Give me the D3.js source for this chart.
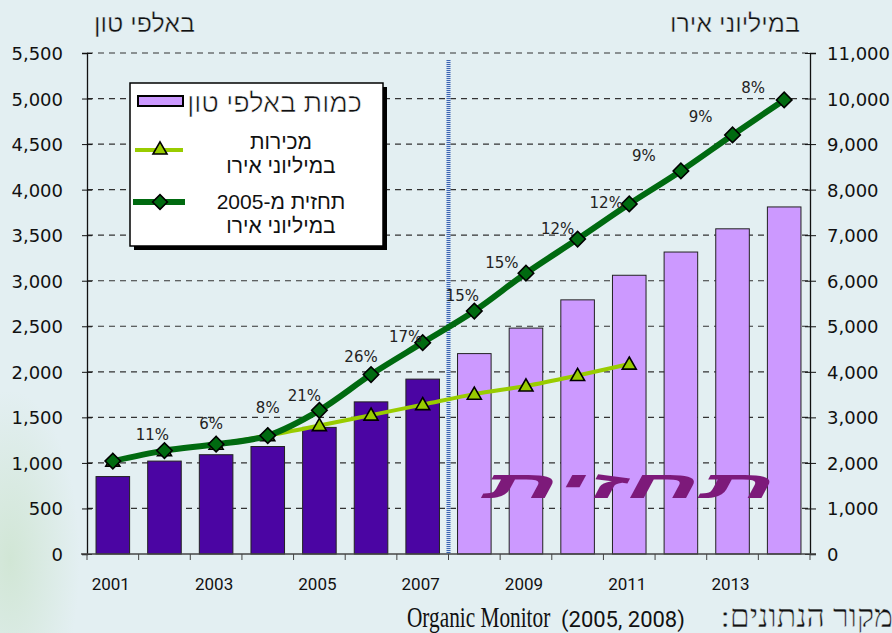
<!DOCTYPE html>
<html lang="he">
<head>
<meta charset="utf-8">
<style>
    body { margin: 0; background: #e3eff2; }
    svg { display: block; }
    .axis text { font-family: "DejaVu Sans", Tahoma, sans-serif; font-size: 18px; fill: #111; }
    .heb { font-family: "Liberation Sans", Arial, sans-serif; fill: #111; }
    .thin { stroke: #e3eff2; stroke-width: 0.4px; }
    .thinW { stroke: #fff; stroke-width: 0.6px; }
</style>
</head>
<body>
<svg width="892" height="633"></svg>
<script src="https://cdnjs.cloudflare.com/ajax/libs/d3/7.8.5/d3.min.js"></script>
<script>
    // Data
    const years = [2001, 2002, 2003, 2004, 2005, 2006, 2007, 2008, 2009, 2010, 2011, 2012, 2013, 2014];
    const firstForecastYear = 2008;
    // quantity, thousand tonnes (left axis)
    const quantity = [850, 1020, 1090, 1180, 1390, 1670, 1920, 2200, 2480, 2790, 3060, 3315, 3570, 3810];
    // sales, million euro (right axis), 2001-2011
    const salesYears = [2001, 2002, 2003, 2004, 2005, 2006, 2007, 2008, 2009, 2010, 2011];
    const sales = [2040, 2270, 2410, 2600, 2820, 3050, 3280, 3510, 3690, 3920, 4170];
    // forecast from 2005, million euro (right axis)
    const forecast = [2040, 2270, 2410, 2600, 3155, 3940, 4640, 5335, 6165, 6915, 7685, 8410, 9200, 9970];
    const growth = [null, 11, 6, 8, 21, 26, 17, 15, 15, 12, 12, 9, 9, 8];

    const leftTicks = [0, 500, 1000, 1500, 2000, 2500, 3000, 3500, 4000, 4500, 5000, 5500];
    const rightTicks = [0, 1000, 2000, 3000, 4000, 5000, 6000, 7000, 8000, 9000, 10000, 11000];
    const yearLabels = [2001, 2003, 2005, 2007, 2009, 2011, 2013];

    // label nudges (px) for the growth labels, relative to each diamond
    const labelDx = [0, -12, -5, 0, -15, -10, -17, -12, -24, -20, -23, -37, -32, -31];
    const labelDy = [0, -11, -15, -23, -9, -13, -1, -10, -5, -5, 4, -10, -13, -7];

    const svg = d3.select("svg");
    const plotLeft = 87, plotRight = 810, plotTop = 53, plotBottom = 554;

    // background tint
    const defs = svg.append("defs");
    const rg = defs.append("radialGradient").attr("id", "greenTint");
    rg.append("stop").attr("offset", "0%").attr("stop-color", "#cfe5d2").attr("stop-opacity", 0.9);
    rg.append("stop").attr("offset", "100%").attr("stop-color", "#cfe5d2").attr("stop-opacity", 0);
    svg.append("rect").attr("width", 892).attr("height", 633).attr("fill", "#e3eff2");
    svg.append("ellipse").attr("cx", 10).attr("cy", 560).attr("rx", 70).attr("ry", 170)
        .attr("fill", "url(#greenTint)");

    const x = d3.scaleBand().domain(years).range([plotLeft, plotRight]).paddingInner(0.35).paddingOuter(0.175);
    const yLeft = d3.scaleLinear().domain([0, 5500]).range([plotBottom, plotTop]);
    const yRight = d3.scaleLinear().domain([0, 11000]).range([plotBottom, plotTop]);
    const cx = yr => x(yr) + x.bandwidth() / 2;

    // gridlines
    svg.append("g").selectAll("line").data(leftTicks.filter(d => d > 0)).join("line")
        .attr("x1", plotLeft).attr("x2", plotRight)
        .attr("y1", d => yLeft(d)).attr("y2", d => yLeft(d))
        .attr("stroke", "#333").attr("stroke-width", 1.2).attr("stroke-dasharray", "6,5");

    // bars
    svg.append("g").selectAll("rect").data(years).join("rect")
        .attr("x", d => x(d))
        .attr("y", (d, i) => yLeft(quantity[i]))
        .attr("width", x.bandwidth())
        .attr("height", (d, i) => plotBottom - yLeft(quantity[i]))
        .attr("fill", d => d < firstForecastYear ? "#4b05a3" : "#cc99ff")
        .attr("stroke", "#222").attr("stroke-width", 1);

    // forecast watermark
    svg.append("text").attr("class", "heb")
        .attr("x", 483).attr("y", 498)
        .attr("textLength", 292).attr("lengthAdjust", "spacingAndGlyphs")
        .attr("font-size", 38).attr("font-weight", "bold").attr("font-style", "italic")
        .style("fill", "#7d1a7a")
        .text("תחזית");

    // separator between actual and forecast
    const sepX = x(firstForecastYear) - x.step() * x.paddingInner() / 2;
    svg.append("line").attr("x1", sepX).attr("x2", sepX).attr("y1", 60).attr("y2", plotBottom)
        .attr("stroke", "#d4e2f4").attr("stroke-width", 4);
    svg.append("line").attr("x1", sepX).attr("x2", sepX).attr("y1", 60).attr("y2", plotBottom)
        .attr("stroke", "#3a64b0").attr("stroke-width", 4).attr("stroke-dasharray", "1,1");

    // axes
    const axL = svg.append("g").attr("class", "axis").attr("transform", `translate(${plotLeft},0)`)
        .call(d3.axisLeft(yLeft).tickValues(leftTicks).tickFormat(d3.format(",")).tickSize(5).tickPadding(19));
    axL.selectAll(".tick line").attr("x1", 5).attr("stroke", "#111");
    axL.select(".domain").attr("stroke", "#111").attr("stroke-width", 1.3);

    const axR = svg.append("g").attr("class", "axis").attr("transform", `translate(${plotRight},0)`)
        .call(d3.axisRight(yRight).tickValues(rightTicks).tickFormat(d3.format(",")).tickSize(6).tickPadding(11));
    axR.selectAll(".tick line").attr("x1", -5).attr("stroke", "#111");
    axR.select(".domain").attr("stroke", "#111").attr("stroke-width", 1.3);
    axL.selectAll("text").attr("dy", "0.36em");
    axR.selectAll("text").attr("dy", "0.36em");

    // bottom axis
    svg.append("line").attr("x1", plotLeft - 6).attr("x2", plotRight + 6).attr("y1", plotBottom).attr("y2", plotBottom)
        .attr("stroke", "#444").attr("stroke-width", 1.5);
    svg.append("g").selectAll("line").data(years.concat([null])).join("line")
        .attr("x1", (d, i) => plotLeft + i * x.step()).attr("x2", (d, i) => plotLeft + i * x.step())
        .attr("y1", plotBottom).attr("y2", plotBottom + 6)
        .attr("stroke", "#444").attr("stroke-width", 1);
    svg.append("g").selectAll("text").data(yearLabels).join("text")
        .attr("x", d => cx(d) - 2).attr("y", 590)
        .attr("text-anchor", "middle")
        .attr("font-family", "Roboto, 'DejaVu Sans', sans-serif")
        .attr("font-size", 17).attr("fill", "#111")
        .text(d => d);

    // sales line
    const salesPts = salesYears.map((yr, i) => [cx(yr), yRight(sales[i])]);
    svg.append("path").datum(salesPts)
        .attr("d", d3.line().curve(d3.curveMonotoneX))
        .attr("fill", "none").attr("stroke", "#99cc00").attr("stroke-width", 4);
    svg.append("g").selectAll("path").data(salesPts).join("path")
        .attr("d", d3.symbol(d3.symbolTriangle, 85))
        .attr("transform", d => `translate(${d[0]},${d[1] + 1})`)
        .attr("fill", "#99cc00").attr("stroke", "#000").attr("stroke-width", 1.6);

    // forecast line
    const fcPts = years.map((yr, i) => [cx(yr), yRight(forecast[i])]);
    svg.append("path").datum(fcPts)
        .attr("d", d3.line().curve(d3.curveMonotoneX))
        .attr("fill", "none").attr("stroke", "#006a10").attr("stroke-width", 6);
    svg.append("g").selectAll("path").data(fcPts).join("path")
        .attr("d", d3.symbol(d3.symbolSquare, 120))
        .attr("transform", d => `translate(${d[0]},${d[1]}) rotate(45)`)
        .attr("fill", "#006a10").attr("stroke", "#000").attr("stroke-width", 1.6);

    // growth labels
    svg.append("g").selectAll("text").data(fcPts).join("text")
        .attr("x", (d, i) => d[0] + labelDx[i])
        .attr("y", (d, i) => d[1] + labelDy[i])
        .attr("text-anchor", "middle")
        .attr("font-family", "'DejaVu Sans', Tahoma, sans-serif")
        .attr("font-size", 15).attr("fill", "#222")
        .text((d, i) => growth[i] == null ? "" : growth[i] + "%");

    // axis titles
    svg.append("text").attr("class", "heb thin").attr("x", 195).attr("y", 32)
        .attr("direction", "rtl").attr("font-size", 25).text("באלפי טון");
    svg.append("text").attr("class", "heb thin").attr("x", 800).attr("y", 32)
        .attr("direction", "rtl").attr("font-size", 25).text("במיליוני אירו");

    // legend
    const lg = svg.append("g");
    lg.append("rect").attr("x", 134).attr("y", 87).attr("width", 253).attr("height", 163).attr("fill", "#000");
    lg.append("rect").attr("x", 130).attr("y", 83).attr("width", 253).attr("height", 163)
        .attr("fill", "#fff").attr("stroke", "#000").attr("stroke-width", 1.5);
    lg.append("rect").attr("x", 138).attr("y", 96).attr("width", 45).attr("height", 10)
        .attr("fill", "#cc99ff").attr("stroke", "#000").attr("stroke-width", 2);
    lg.append("text").attr("class", "heb thinW").attr("x", 362).attr("y", 112)
        .attr("direction", "rtl").attr("font-size", 27).text("כמות באלפי טון");

    lg.append("line").attr("x1", 135).attr("x2", 183).attr("y1", 150).attr("y2", 150)
        .attr("stroke", "#99cc00").attr("stroke-width", 4);
    lg.append("path").attr("d", d3.symbol(d3.symbolTriangle, 85))
        .attr("transform", "translate(160,150)")
        .attr("fill", "#99cc00").attr("stroke", "#000").attr("stroke-width", 1.6);
    lg.append("text").attr("class", "heb").attr("x", 281).attr("y", 149)
        .attr("text-anchor", "middle").attr("direction", "rtl").attr("font-size", 21).text("מכירות");
    lg.append("text").attr("class", "heb").attr("x", 281).attr("y", 173)
        .attr("text-anchor", "middle").attr("direction", "rtl").attr("font-size", 21).text("במיליוני אירו");

    lg.append("line").attr("x1", 133).attr("x2", 185).attr("y1", 202).attr("y2", 202)
        .attr("stroke", "#006a10").attr("stroke-width", 6);
    lg.append("path").attr("d", d3.symbol(d3.symbolSquare, 110))
        .attr("transform", "translate(160,202) rotate(45)")
        .attr("fill", "#006a10").attr("stroke", "#000").attr("stroke-width", 1.6);
    lg.append("text").attr("class", "heb").attr("x", 281).attr("y", 209)
        .attr("text-anchor", "middle").attr("direction", "rtl").attr("font-size", 21).text("תחזית מ-2005");
    lg.append("text").attr("class", "heb").attr("x", 281).attr("y", 233)
        .attr("text-anchor", "middle").attr("direction", "rtl").attr("font-size", 21).text("במיליוני אירו");

    // source
    svg.append("g").attr("transform", "translate(407,627) scale(0.71,1)")
        .append("text")
        .attr("font-family", "'Liberation Serif', 'Times New Roman', serif")
        .attr("font-size", 30).attr("fill", "#111")
        .text("Organic Monitor");
    svg.append("text").attr("x", 561).attr("y", 627)
        .attr("font-family", "Roboto, 'DejaVu Sans', sans-serif")
        .attr("font-size", 22).attr("fill", "#111")
        .text("(2005, 2008)");
    svg.append("text").attr("class", "thin").attr("x", 893).attr("y", 627)
        .attr("direction", "rtl")
        .attr("font-family", "'Liberation Serif', 'Times New Roman', serif")
        .attr("font-size", 32).attr("fill", "#111")
        .text("מקור הנתונים:");
</script>
</body>
</html>
